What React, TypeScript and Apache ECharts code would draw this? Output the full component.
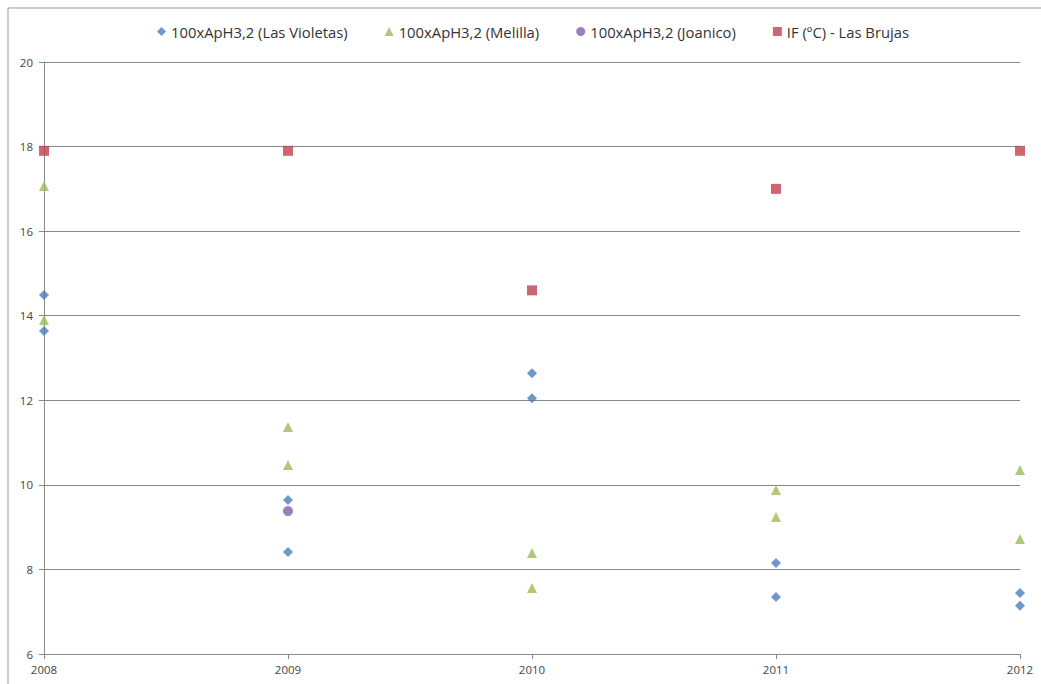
import React, { useEffect, useRef } from "react";
import * as echarts from "echarts";

// Years on the horizontal axis
const years = [2008, 2009, 2010, 2011, 2012];

// 100xApH3,2 readings per site, as [year, value] pairs
const lasVioletas: [number, number][] = [
  [2008, 14.49], [2008, 13.64],
  [2009, 9.64], [2009, 8.41],
  [2010, 12.64], [2010, 12.05],
  [2011, 8.15], [2011, 7.35],
  [2012, 7.44], [2012, 7.14],
];
const melilla: [number, number][] = [
  [2008, 17.07], [2008, 13.9],
  [2009, 11.37], [2009, 10.47],
  [2010, 8.39], [2010, 7.56],
  [2011, 9.88], [2011, 9.24],
  [2012, 10.35], [2012, 8.72],
];
const joanico: [number, number][] = [[2009, 9.38]];
// IF (ºC) at Las Brujas
const lasBrujas: [number, number][] = [
  [2008, 17.9], [2009, 17.9], [2010, 14.6], [2011, 17.0], [2012, 17.9],
];

const seriesNames = [
  "100xApH3,2 (Las Violetas)",
  "100xApH3,2 (Melilla)",
  "100xApH3,2 (Joanico)",
  "IF (ºC) - Las Brujas",
];
const colors = ["#4A7EBB", "#9BBB59", "#7F62A8", "#C0404D"];

const yMin = 6;
const yMax = 20;
const yStep = 2;

export default function App() {
  const ref = useRef<HTMLDivElement>(null);

  useEffect(() => {
    if (!ref.current) return;
    const chart = echarts.init(ref.current, null, { renderer: "svg" });
    const font = "'Open Sans', 'Liberation Sans', sans-serif";
    chart.setOption({
      animation: false,
      backgroundColor: "#ffffff",
      textStyle: { fontFamily: font },
      graphic: [
        {
          type: "rect",
          shape: { x: 8, y: 8, width: 1200, height: 800 },
          style: { fill: "none", stroke: "#9a9a9a", lineWidth: 1 },
          silent: true,
          z: -1,
        },
      ],
      legend: {
        top: 19,
        left: 152,
        itemWidth: 9,
        itemHeight: 9,
        itemGap: 37,
        textStyle: { fontSize: 14.8, color: "#333", fontFamily: font },
        data: seriesNames.map((n, i) => ({
          name: n,
          icon: ["diamond", "triangle", "circle", "rect"][i],
        })),
      },
      grid: { left: 44, right: 21, top: 62, bottom: 30, containLabel: false },
      xAxis: {
        type: "value",
        min: years[0],
        max: years[years.length - 1],
        interval: 1,
        splitLine: { show: false },
        axisLine: { lineStyle: { color: "#888", width: 1 } },
        axisTick: { show: true, length: 5, lineStyle: { color: "#888" } },
        axisLabel: { color: "#444", fontSize: 11.5, margin: 9, formatter: (v: number) => String(v) },
      },
      yAxis: {
        type: "value",
        min: yMin,
        max: yMax,
        interval: yStep,
        axisLine: { show: true, lineStyle: { color: "#888", width: 1 } },
        axisTick: { show: true, length: 5, lineStyle: { color: "#888" } },
        axisLabel: { color: "#444", fontSize: 11.5, margin: 11 },
        splitLine: { lineStyle: { color: "#888", width: 1 } },
      },
      series: [
        { name: seriesNames[0], type: "scatter", symbol: "diamond", symbolSize: 10, data: lasVioletas, itemStyle: { color: colors[0] } },
        { name: seriesNames[1], type: "scatter", symbol: "triangle", symbolSize: 10, data: melilla, itemStyle: { color: colors[1] } },
        { name: seriesNames[2], type: "scatter", symbol: "circle", symbolSize: 10, data: joanico, itemStyle: { color: colors[2] } },
        { name: seriesNames[3], type: "scatter", symbol: "rect", symbolSize: 10, data: lasBrujas, itemStyle: { color: colors[3] } },
      ],
    });
    return () => chart.dispose();
  }, []);

  return (
    <div
      ref={ref}
      style={{ position: "absolute", left: 0, top: 0, width: 1041, height: 684 }}
    />
  );
}
